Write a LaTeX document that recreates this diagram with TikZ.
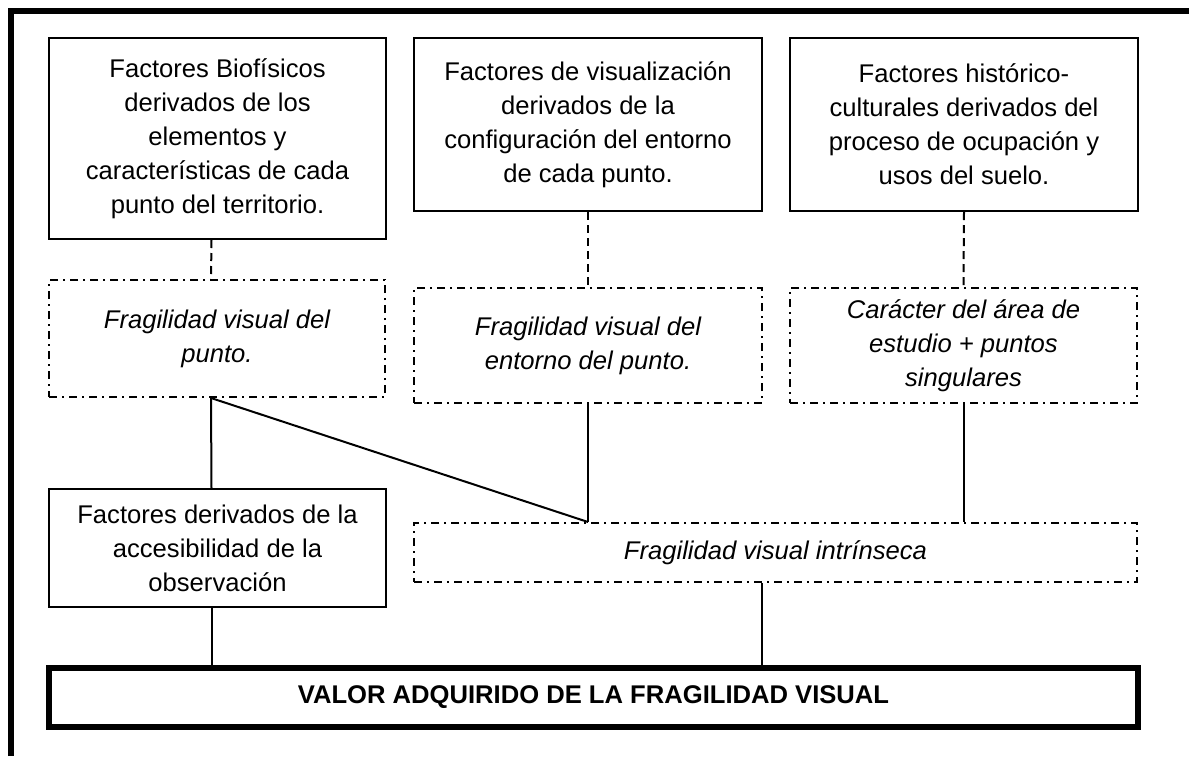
\documentclass[tikz,border=0pt]{standalone}
\usepackage{fontspec}
\setmainfont{Liberation Sans}
\usetikzlibrary{positioning}

\begin{document}
\begin{tikzpicture}[x=0.5pt,y=-0.5pt,
		fact/.style={draw,line width=1pt,align=center,inner sep=0pt,font=\fontsize{12.8pt}{17pt}\selectfont},
		frag/.style={draw,line width=1pt,dash pattern=on 4pt off 2.5pt on 1pt off 2.5pt,align=center,inner sep=0pt,font=\fontsize{12.8pt}{17pt}\selectfont\itshape},
		result/.style={draw,line width=3pt,inner sep=0pt,font=\fontsize{12.8pt}{17pt}\selectfont\bfseries},
		dlink/.style={line width=1pt,dash pattern=on 4pt off 2.5pt},
		link/.style={line width=1pt}]
		\useasboundingbox (0,0) rectangle (1189,756);
		\draw[line width=3pt] (11,756) -- (11,11) -- (1189,11);

		\node[fact,minimum width=168.5pt,minimum height=100.5pt]	(bio)	at (217.5,138.5)	{Factores Biofísicos\\derivados de los\\elementos y\\características de cada\\punto del territorio.};
		\node[fact,minimum width=174pt,minimum height=86.5pt]	(vis)	at (588,124.5)	{Factores de visualización\\derivados de la\\configuración del entorno\\de cada punto.};
		\node[fact,minimum width=174pt,minimum height=86.5pt]	(hist)	at (964,124.5)	{Factores histórico-\\culturales derivados del\\proceso de ocupación y\\usos del suelo.};

		\node[frag,minimum width=168pt,minimum height=58.5pt]	(fragP)	at (217,338.5)	{Fragilidad visual del\\punto.};
		\node[frag,minimum width=174pt,minimum height=57.5pt]	(fragE)	at (588,345.5)	{Fragilidad visual del\\entorno del punto.};
		\node[frag,minimum width=173.5pt,minimum height=57.5pt]	(car)	at (963.5,345.5)	{Carácter del área de\\estudio + puntos\\singulares};

		\node[fact,minimum width=168.5pt,minimum height=59pt]	(acc)	at (217.5,548)	{Factores derivados de la\\accesibilidad de la\\observación};
		\node[frag,minimum width=361.5pt,minimum height=29.5pt]	(intr)	at (775.5,552.5)	{Fragilidad visual intrínseca};

		\node[result,minimum width=544.5pt,minimum height=29.5pt]	(valor)	at (593.5,697.5)	{VALOR ADQUIRIDO DE LA FRAGILIDAD VISUAL};

		\draw[dlink] ([xshift=-3pt]bio.south) -- ([xshift=-3pt]fragP.north);
		\draw[dlink] (vis.south) -- (fragE.north);
		\draw[dlink] (hist.south) -- (car.north);

		\draw[link] ([xshift=-3pt]fragP.south) -- ([xshift=-3pt]acc.north);
		\draw[link] ([xshift=-3pt]fragP.south) -- (fragE.south |- intr.north);
		\draw[link] (fragE.south) -- (fragE.south |- intr.north);
		\draw[link] (car.south) -- (car.south |- intr.north);
		\draw[link] ([xshift=-3pt]acc.south) -- ([xshift=-3pt]acc.south |- valor.north);
		\draw[link] ([xshift=-7pt]intr.south) -- ([xshift=-7pt]intr.south |- valor.north);
	\end{tikzpicture}
\end{document}
